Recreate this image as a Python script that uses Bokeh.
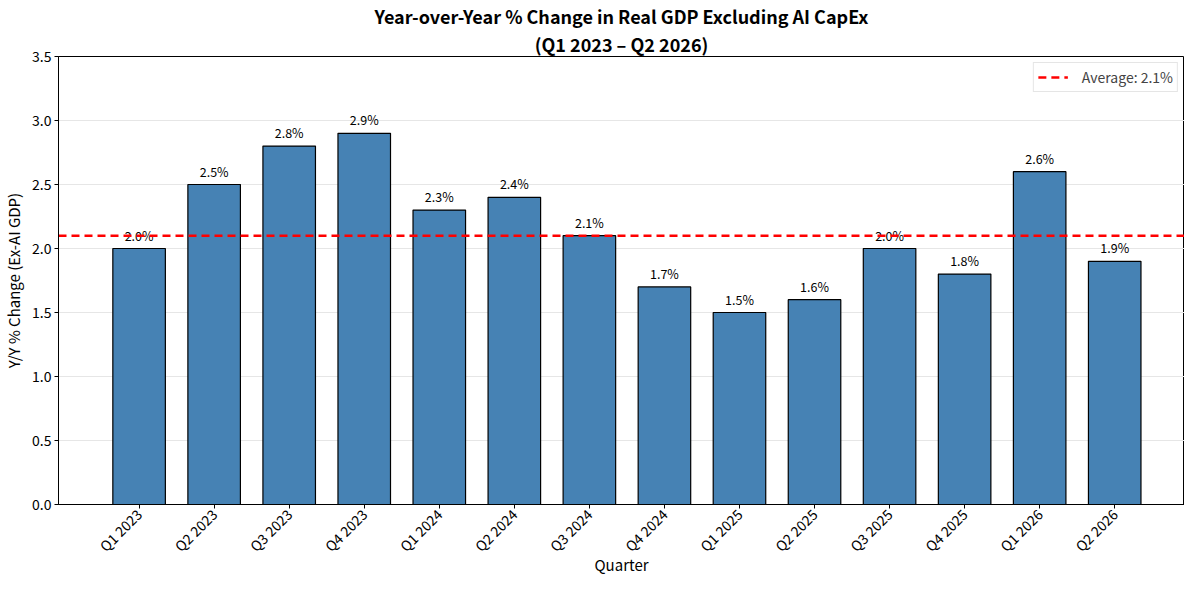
import math
from bokeh.plotting import figure
from bokeh.models import ColumnDataSource, Range1d, FixedTicker, NumeralTickFormatter, Title, Legend, LegendItem
from bokeh.core.properties import value
from bokeh.embed import file_html
from bokeh.resources import INLINE

quarters = ["Q1 2023", "Q2 2023", "Q3 2023", "Q4 2023", "Q1 2024", "Q2 2024", "Q3 2024",
            "Q4 2024", "Q1 2025", "Q2 2025", "Q3 2025", "Q4 2025", "Q1 2026", "Q2 2026"]
values = [2.0, 2.5, 2.8, 2.9, 2.3, 2.4, 2.1, 1.7, 1.5, 1.6, 2.0, 1.8, 2.6, 1.9]
average = 2.1

FONT = "Noto Sans CJK JP"
X0, X1 = -1.074, 13.93

xs = list(range(len(quarters)))
src = ColumnDataSource(dict(x=xs, top=values,
                            ty=[v + 0.03 for v in values],
                            label=[f"{v:.1f}%" for v in values]))

p = figure(width=1184, height=577, output_backend="svg", toolbar_location=None,
           x_range=Range1d(X0, X1), y_range=Range1d(0, 3.5),
           min_border_left=52, min_border_right=0, min_border_top=0, min_border_bottom=0)

p.title.text = "Year-over-Year % Change in Real GDP Excluding AI CapEx"
p.title.align = "center"
p.title.text_font = FONT
p.title.text_font_size = "18px"
p.title.text_font_style = "bold"
p.title.text_color = "black"
p.title.standoff = 0
p.title.offset = 0
p.title.text_line_height = 1.0
t2 = Title(text="(Q1 2023 \u2013 Q2 2026)", align="center", standoff=0, text_line_height=1.0,
           text_font=FONT, text_font_size="18px", text_font_style="bold", text_color="black")
p.add_layout(t2, "above")

p.vbar(x="x", top="top", bottom=0, width=0.7, source=src,
       fill_color="#4682B4", line_color="black", line_width=1.2)

p.text(x="x", y="ty", text="label", source=src, text_align="center", text_baseline="bottom",
       text_font=value(FONT), text_font_size="12.5px", text_color="black")

avg_line = p.line(x=[X0, X1], y=[average, average], line_color="red", line_width=2.5,
                  line_dash="8 5")

legend = Legend(items=[LegendItem(label=f"Average: {average:.1f}%", renderers=[avg_line])],
                location="top_right", label_text_font=FONT, label_text_font_size="14px",
                border_line_color="#cccccc", border_line_width=1, background_fill_alpha=0.9,
                glyph_width=30, margin=6, padding=4, spacing=0, label_standoff=14)
p.add_layout(legend)

p.xaxis.ticker = FixedTicker(ticks=xs)
p.xaxis.major_label_overrides = {i: q for i, q in enumerate(quarters)}
p.xaxis.major_label_orientation = math.pi / 4
p.yaxis.ticker = FixedTicker(ticks=[0, 0.5, 1.0, 1.5, 2.0, 2.5, 3.0, 3.5])
p.yaxis.formatter = NumeralTickFormatter(format="0.0")

for ax in (p.xaxis, p.yaxis):
    ax.major_label_text_font = FONT
    ax.major_label_text_font_size = "14px"
    ax.major_label_text_color = "black"
    ax.major_label_text_line_height = 1.0
    ax.axis_label_text_font = FONT
    ax.axis_label_text_font_size = "15px"
    ax.axis_label_text_font_style = "normal"
    ax.axis_label_text_color = "black"
    ax.axis_label_text_line_height = 1.0
    ax.axis_line_color = "black"
    ax.major_tick_line_color = "black"
    ax.minor_tick_line_color = None
    ax.major_tick_in = 0
    ax.major_tick_out = 4
    ax.major_label_standoff = 3

p.xaxis.axis_label_standoff = -12
p.yaxis.axis_label_standoff = 5

p.xaxis.axis_label = "Quarter"
p.yaxis.axis_label = "Y/Y % Change (Ex-AI GDP)"

p.xgrid.grid_line_color = None
p.ygrid.grid_line_color = "#e6e6e6"
p.ygrid.grid_line_width = 1

p.outline_line_color = "black"
p.outline_line_width = 1
p.outline_line_alpha = 1

open("out.html", "w").write(file_html(p, INLINE))
